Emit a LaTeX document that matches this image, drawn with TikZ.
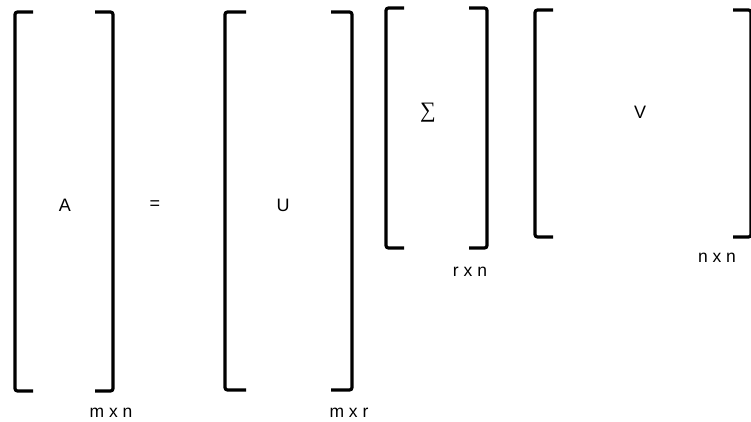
\documentclass[tikz,border=0pt]{standalone}
\usepackage{fontspec}
\setmainfont{Liberation Sans}
\newfontfamily\symfont{Liberation Serif}

\tikzset{
  brk/.style={line width=3.2pt,rounded corners=2.5pt},
  entry/.style={inner sep=0pt,font=\fontsize{18}{21}\selectfont},
  dims/.style={inner sep=0pt,font=\fontsize{17.5}{20}\selectfont}
}

% left x, right x, top y, bottom y, serif length
\newcommand\MatBrackets[5]{%
  \draw[brk] (#1+#5,#3) -- (#1,#3) -- (#1,#4) -- (#1+#5,#4);
  \draw[brk] (#2-#5,#3) -- (#2,#3) -- (#2,#4) -- (#2-#5,#4);}

\begin{document}
\begin{tikzpicture}[x=1pt,y=-1pt]
\useasboundingbox (0,0) rectangle (751,421);

\MatBrackets{15}{113}{12}{391}{18}
\MatBrackets{225}{352}{12}{390}{21}
\MatBrackets{386}{487}{8}{248}{18}
\MatBrackets{535}{751}{10}{237}{18}

\node[entry] (A) at (65,205) {A};
\node[entry] (eq) at (155,205) {=};
\node[entry] (U) at (283,205) {U};
\node[entry,font=\symfont\fontsize{22}{24}\selectfont] (S) at (428,113) {∑};
\node[entry] (V) at (640,112) {V};

\node[dims] (dA) at (111,413) {m x n};
\node[dims] (dU) at (349,413) {m x r};
\node[dims] (dS) at (470,272) {r x n};
\node[dims] (dV) at (717,258) {n x n};

\end{tikzpicture}
\end{document}
